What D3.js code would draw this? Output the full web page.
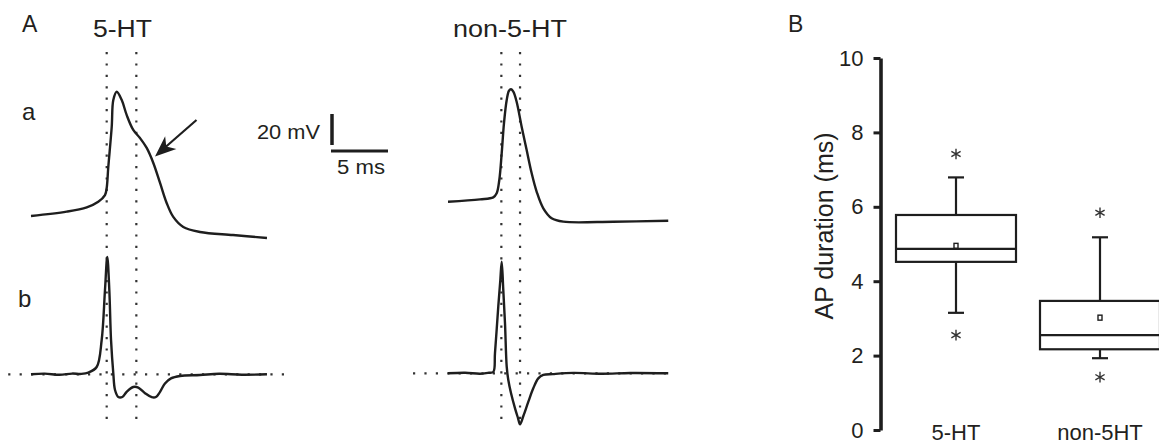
<!DOCTYPE html>
<html><head><meta charset="utf-8">
<script src="https://cdn.jsdelivr.net/npm/d3@7"></script>
<style>
html,body{margin:0;padding:0;background:#fff;}
svg{display:block;font-family:"Liberation Sans", Arial, sans-serif;}
</style></head><body>
<svg id="chart" width="1159" height="444"></svg>
<script>
// ---------- Panel A: action potential traces ----------
// (a) membrane potential, time in ms, voltage in mV
const t5HT_a = [0, 3.13, 4.89, 5.90, 6.49, 6.64, 6.78, 7.08, 7.22, 7.52, 7.96, 8.39, 8.97, 9.56, 10.15, 10.73, 11.32, 11.90, 12.48, 13.36, 14.82, 17.72, 20.70];
const v5HT_a = [-50, -47.2, -44.4, -40.8, -36.5, -31.9, -18.4, 7.4, 24.8, 30.2, 24.8, 15.2, 5.5, 0.3, -6.1, -15.8, -28.7, -41.6, -50.6, -57.1, -60.3, -62.3, -64.2];
const tNon_a = [0, 2.81, 3.97, 4.27, 4.50, 4.71, 4.91, 5.15, 5.35, 5.53, 5.73, 6.02, 6.46, 6.90, 7.34, 7.78, 8.36, 9.09, 10.11, 14.5, 19.32];
const vNon_a = [-49.8, -48.3, -47.0, -44.4, -35.8, -18.6, 0.8, 15.8, 21.8, 22.7, 21.2, 14.7, -1.4, -16.5, -31.5, -43.4, -54.1, -60.5, -62.7, -62.7, -62.1];
// (b) dV/dt, time in ms, V/s
const t5HT_b = [0, 1.2, 2.5, 3.6, 4.4, 5.03, 5.76, 6.2, 6.49, 6.69, 6.87, 7.02, 7.22, 7.37, 7.66, 8.01, 8.39, 8.97, 9.41, 10.0, 10.59, 10.96, 11.32, 11.75, 12.28, 13.07, 14.82, 16.5, 18.5, 20.7];
const d5HT_b = [0, 0.8, -0.6, 0.9, 0.5, 2.1, 9.1, 42.9, 105.4, 146.6, 105.4, 43, 1.2, -19.6, -28.4, -28.4, -21.9, -15.9, -16.6, -23.6, -28.6, -28.4, -21.9, -11.4, -5.1, -2.1, -0.9, 0.6, -0.5, 0];
const tNon_b = [0, 1.5, 2.8, 3.5, 3.97, 4.12, 4.41, 4.59, 4.71, 4.85, 5.0, 5.15, 5.29, 5.53, 5.88, 6.14, 6.32, 6.61, 7.05, 7.48, 7.92, 8.36, 9.2, 11, 13.5, 16, 19.32];
const dNon_b = [0, 0.7, -0.5, 0.6, 1.6, 25, 83.3, 116.6, 139.5, 104, 62.5, 8.3, -8.4, -25, -43.8, -55.9, -63.8, -53.4, -35.5, -18.8, -6.3, -2.1, -1, 0.5, -0.6, 0.4, 0];
// dotted time markers (ms) and zero-line extents (ms)
const markers5HT = [6.64, 9.24];
const markersNon = [4.68, 6.32];
const zeroExt5HT = [-2.0, 22.5];
const zeroExtNon = [-3.07, 19.7];
// scale bar
const scaleBarMv = 20, scaleBarMs = 5;
const panelATitles = ["5-HT", "non-5-HT"];

// ---------- Panel B: box plot ----------
const categories = ["5-HT", "non-5HT"];
const q1 = [4.52, 2.17];
const median = [4.87, 2.55];
const q3 = [5.78, 3.47];
const whiskerLow = [3.15, 1.93];
const whiskerHigh = [6.79, 5.18];
const means = [4.95, 3.02];
const outlierLow = [2.55, 1.42];
const outlierHigh = [7.42, 5.84];
const yTicks = [0, 2, 4, 6, 8, 10];

const svg = d3.select("#chart");
const ink = "#1e1e1e", txt = "#231f20";

// scales for traces
const x5 = d3.scaleLinear().domain([0, 20]).range([31, 259]);
const xN = d3.scaleLinear().domain([0, 20]).range([448, 676]);
const ya5 = d3.scaleLinear().domain([-50, 30]).range([216, 92]);
const yaN = d3.scaleLinear().domain([-50, 30]).range([202, 78]);
const yb5 = d3.scaleLinear().domain([0, 150]).range([374.3, 254.3]);
const ybN = d3.scaleLinear().domain([0, 150]).range([373.3, 253.3]);

const dotted = {stroke: "#333", "stroke-width": 2.2, "stroke-dasharray": "2.2,9.2"};
function applyAttrs(sel, o) { for (const k in o) sel.attr(k, o[k]); return sel; }

function drawPanel(xs, ya, yb, ta, va, tb, db, markers, zext) {
  const g = svg.append("g");
  markers.forEach(m => {
    applyAttrs(g.append("line").attr("x1", xs(m)).attr("x2", xs(m)).attr("y1", 52).attr("y2", 428), dotted);
  });
  applyAttrs(g.append("line").attr("x1", xs(zext[0])).attr("x2", xs(zext[1]))
    .attr("y1", yb(0)).attr("y2", yb(0)), dotted);
  const lineA = d3.line().x((d, i) => xs(ta[i])).y((d, i) => ya(va[i])).curve(d3.curveCatmullRom.alpha(0.5));
  const lineB = d3.line().x((d, i) => xs(tb[i])).y((d, i) => yb(db[i])).curve(d3.curveCatmullRom.alpha(0.5));
  g.append("path").attr("d", lineA(ta)).attr("fill", "none").attr("stroke", ink).attr("stroke-width", 2.4).attr("stroke-linejoin", "round");
  g.append("path").attr("d", lineB(tb)).attr("fill", "none").attr("stroke", ink).attr("stroke-width", 2.4).attr("stroke-linejoin", "round");
}
drawPanel(x5, ya5, yb5, t5HT_a, v5HT_a, t5HT_b, d5HT_b, markers5HT, zeroExt5HT);
drawPanel(xN, yaN, ybN, tNon_a, vNon_a, tNon_b, dNon_b, markersNon, zeroExtNon);

// labels panel A
function label(x, y, s, size, len) {
  const t = svg.append("text").attr("x", x).attr("y", y).text(s)
    .attr("font-size", size).attr("fill", txt);
  if (len) t.attr("textLength", len).attr("lengthAdjust", "spacingAndGlyphs");
  return t;
}
label(22, 32, "A", 23);
label(93, 37, panelATitles[0], 23, 59);
label(453, 37, panelATitles[1], 23, 114);
label(22, 120, "a", 24);
label(18, 307, "b", 24);
label(788, 32, "B", 23);

// scale bar
const sbX = 332, sbY = 145;
const sbH = ya5(0) - ya5(scaleBarMv);
const sbW = x5(scaleBarMs) - x5(0);
svg.append("line").attr("x1", sbX).attr("x2", sbX).attr("y1", sbY).attr("y2", sbY - sbH)
  .attr("stroke", ink).attr("stroke-width", 3.5);
svg.append("line").attr("x1", sbX - 1).attr("x2", sbX - 1 + sbW).attr("y1", sbY + 6).attr("y2", sbY + 6)
  .attr("stroke", ink).attr("stroke-width", 3.2);
label(257, 139, scaleBarMv + " mV", 20, 63);
label(337, 174, scaleBarMs + " ms", 20, 48);

// arrow
const ax1 = 196.5, ay1 = 120, ax2 = 155, ay2 = 156.5;
svg.append("line").attr("x1", ax1).attr("y1", ay1).attr("x2", 165).attr("y2", 147.5)
  .attr("stroke", ink).attr("stroke-width", 2.2);
{
  const ang = Math.atan2(ay2 - ay1, ax2 - ax1);
  const L = 21, W = 8.5, back = 15;
  const ux = Math.cos(ang), uy = Math.sin(ang);
  const px = -uy, py = ux;
  const bx = ax2 - ux * L, by = ay2 - uy * L;
  const nx = ax2 - ux * back, ny = ay2 - uy * back;
  svg.append("path")
    .attr("d", `M${ax2},${ay2} L${bx + px * W},${by + py * W} L${nx},${ny} L${bx - px * W},${by - py * W} Z`)
    .attr("fill", ink);
}

// ---------- Panel B ----------
const y = d3.scaleLinear().domain([0, 10]).range([430, 58]);
const x = d3.scalePoint().domain(categories).range([956, 1100]);
const boxHalf = 60, capHalf = 8;

const axisG = svg.append("g").attr("transform", "translate(880.5,0)")
  .call(d3.axisLeft(y).tickValues(yTicks).tickFormat(d3.format("d")).tickSize(7).tickSizeOuter(0).tickPadding(10));
axisG.select(".domain").attr("stroke", ink).attr("stroke-width", 3.6);
axisG.selectAll(".tick line").attr("stroke", ink).attr("stroke-width", 3);
axisG.selectAll(".tick text").attr("font-size", 22).attr("fill", txt)
  .attr("font-family", '"Liberation Sans", Arial, sans-serif');

svg.append("text").attr("transform", "translate(833,226) rotate(-90)")
  .attr("text-anchor", "middle").attr("font-size", 25).attr("fill", txt).text("AP duration (ms)");

categories.forEach((c, i) => {
  const cx = x(c);
  const g = svg.append("g").attr("stroke", ink).attr("stroke-width", 2.2).attr("fill", "none");
  g.append("line").attr("x1", cx).attr("x2", cx).attr("y1", y(q3[i])).attr("y2", y(whiskerHigh[i]));
  g.append("line").attr("x1", cx).attr("x2", cx).attr("y1", y(q1[i])).attr("y2", y(whiskerLow[i]));
  g.append("line").attr("x1", cx - capHalf).attr("x2", cx + capHalf).attr("y1", y(whiskerHigh[i])).attr("y2", y(whiskerHigh[i]));
  g.append("line").attr("x1", cx - capHalf).attr("x2", cx + capHalf).attr("y1", y(whiskerLow[i])).attr("y2", y(whiskerLow[i]));
  g.append("rect").attr("x", cx - boxHalf).attr("width", boxHalf * 2)
    .attr("y", y(q3[i])).attr("height", y(q1[i]) - y(q3[i]));
  g.append("line").attr("x1", cx - boxHalf).attr("x2", cx + boxHalf).attr("y1", y(median[i])).attr("y2", y(median[i]));
  g.append("rect").attr("x", cx - 2).attr("y", y(means[i]) - 2.5).attr("width", 4).attr("height", 5)
    .attr("stroke-width", 1.4);
  const star = d3.symbol().type(d3.symbolAsterisk).size(80);
  [outlierLow[i], outlierHigh[i]].forEach(v => {
    svg.append("path").attr("d", star()).attr("transform", `translate(${cx},${y(v)})`)
      .attr("fill", "none").attr("stroke", "#333").attr("stroke-width", 1.4);
  });
  svg.append("text").attr("x", cx).attr("y", 440).attr("text-anchor", "middle")
    .attr("font-size", 22).attr("fill", txt).text(c);
});
</script>
</body></html>
